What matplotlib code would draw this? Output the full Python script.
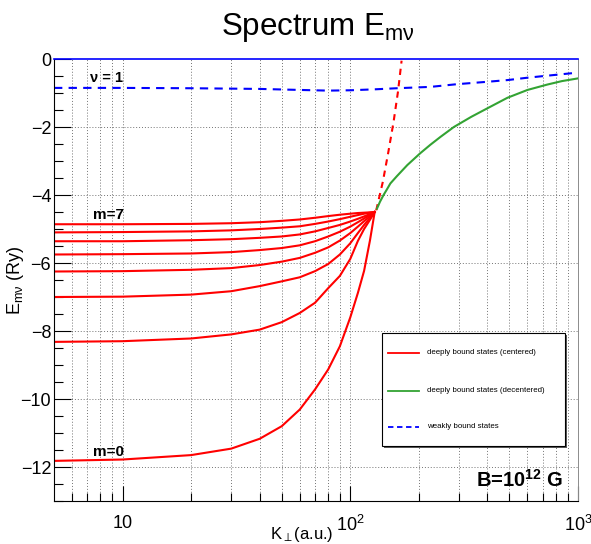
import matplotlib
matplotlib.use("Agg")
import matplotlib.pyplot as plt
from matplotlib.patches import Rectangle
from matplotlib.ticker import FixedLocator, NullFormatter, MultipleLocator

plt.rcParams["font.family"] = ["Liberation Sans", "DejaVu Sans"]
plt.rcParams["mathtext.fontset"] = "custom"
plt.rcParams["mathtext.rm"] = "Liberation Sans"
plt.rcParams["mathtext.it"] = "Liberation Sans:italic"
plt.rcParams["mathtext.bf"] = "Liberation Sans:bold"

# K_perp (a.u.) and energies (Ry)
k_centered = [5, 10, 20, 30, 40, 50, 60, 70, 80, 90, 100, 108, 115, 122, 128]
e_m0 = [-11.82, -11.78, -11.65, -11.46, -11.17, -10.80, -10.31, -9.72, -9.13, -8.45, -7.60, -6.88, -6.23, -5.34, -4.50]
e_m1 = [-8.32, -8.30, -8.22, -8.10, -7.96, -7.74, -7.47, -7.17, -6.74, -6.38, -5.88, -5.35, -5.00, -4.73, -4.50]
e_m2 = [-7.00, -6.99, -6.93, -6.83, -6.68, -6.54, -6.42, -6.24, -6.03, -5.75, -5.42, -5.12, -4.88, -4.68, -4.50]
e_m3 = [-6.25, -6.24, -6.20, -6.15, -6.06, -5.96, -5.85, -5.70, -5.54, -5.34, -5.12, -4.93, -4.77, -4.63, -4.50]
e_m4 = [-5.75, -5.74, -5.72, -5.68, -5.62, -5.56, -5.48, -5.36, -5.22, -5.08, -4.93, -4.80, -4.69, -4.59, -4.50]
e_m5 = [-5.36, -5.36, -5.33, -5.30, -5.26, -5.22, -5.16, -5.07, -4.97, -4.88, -4.78, -4.70, -4.63, -4.56, -4.50]
e_m6 = [-5.10, -5.09, -5.07, -5.04, -5.00, -4.96, -4.92, -4.85, -4.78, -4.71, -4.64, -4.59, -4.55, -4.52, -4.50]
e_m7 = [-4.86, -4.86, -4.85, -4.83, -4.80, -4.76, -4.72, -4.67, -4.62, -4.58, -4.55, -4.53, -4.52, -4.51, -4.50]
centered = [e_m0, e_m1, e_m2, e_m3, e_m4, e_m5, e_m6, e_m7]

# continuation of the centered branch (dashed red)
k_cont = [130, 139, 147, 155, 162, 168]
e_cont = [-4.45, -3.61, -2.73, -1.84, -0.96, -0.05]

# decentered states
k_decent = [131, 135, 140, 145, 150, 160, 178, 203, 225, 249, 285, 340, 400, 490, 600, 735, 850, 1000]
e_decent = [-4.40, -4.20, -4.00, -3.83, -3.66, -3.45, -3.12, -2.77, -2.52, -2.29, -2.00, -1.70, -1.45, -1.14, -0.91, -0.75, -0.65, -0.57]

# weakly bound state nu = 1
k_weak = [5, 10, 20, 40, 60, 80, 100, 130, 160, 225, 295, 400, 490, 600, 735, 1000]
e_weak = [-0.85, -0.85, -0.86, -0.88, -0.91, -0.93, -0.92, -0.89, -0.86, -0.82, -0.74, -0.67, -0.62, -0.55, -0.49, -0.40]

legend_labels = ["deeply bound states (centered)",
                 "deeply bound states (decentered)",
                 "weakly bound states"]

green = "#33a333"

fig = plt.figure(figsize=(5.91, 5.44), dpi=100)
ax = fig.add_axes([54 / 591, 43 / 544, 524 / 591, 442 / 544])

for e in centered:
    ax.plot(k_centered, e, color="red", lw=1.5)
ax.plot(k_cont, e_cont, color="red", lw=1.5, ls=(0, (3, 2.5)))
ax.plot(k_decent, e_decent, color=green, lw=1.5)
ax.plot(k_weak, e_weak, color="blue", lw=1.5, ls=(0, (4, 3)))

ax.set_xscale("log")
ax.set_xlim(5, 1000)
ax.set_ylim(-13, 0)

# grid like ROOT: every log tick on x, major ticks on y
major_x = [10, 100, 1000]
minor_x = [6, 7, 8, 9, 20, 30, 40, 50, 60, 70, 80, 90, 200, 300, 400, 500, 600, 700, 800, 900]
ax.xaxis.set_major_locator(FixedLocator(major_x))
ax.xaxis.set_minor_locator(FixedLocator(minor_x))
ax.xaxis.set_minor_formatter(NullFormatter())
ax.set_xticklabels(["10", "10$^{2}$", "10$^{3}$"])
ax.yaxis.set_major_locator(MultipleLocator(2))
ax.yaxis.set_minor_locator(MultipleLocator(0.5))
grid_kw = dict(color="0.45", ls=(0, (1, 2)), lw=0.7, zorder=0)
for x in major_x + minor_x:
    ax.axvline(x, **grid_kw)
for y in range(-12, 0, 2):
    ax.axhline(y, **grid_kw)

ax.tick_params(axis="both", which="both", direction="in", top=False, right=False,
               labelsize=13, width=0.8)
ax.tick_params(axis="x", which="major", length=11, pad=10)
ax.tick_params(axis="x", which="minor", length=6)
ax.tick_params(axis="y", which="major", length=12, pad=2)
ax.tick_params(axis="y", which="minor", length=6.5)

ax.spines["top"].set_color("blue")
ax.spines["top"].set_linewidth(1.2)
ax.spines["right"].set_color("0.55")
ax.spines["right"].set_linewidth(0.7)

ax.set_xlabel(r"K$_{\perp}$(a.u.)", fontsize=12, va="center")
ax.xaxis.set_label_coords((302 - 54) / 524, (501 - 534) / 442)
ax.set_ylabel(r"E$_{\mathrm{m\nu}}$ (Ry)", fontsize=13, va="center")
ax.yaxis.set_label_coords((16 - 54) / 524, 0.5)
fig.text(318 / 591, 1 - 28 / 544, r"Spectrum E$_{\mathrm{m\nu}}$", fontsize=22.5,
         ha="center", va="center")

ax.text(7.2, -0.56, "ν = 1", fontsize=10.5, fontweight="bold", va="center")
ax.text(7.4, -4.6, "m=7", fontsize=11, fontweight="bold", va="center")
ax.text(7.4, -11.57, "m=0", fontsize=11, fontweight="bold", va="center")
ax.text(355, -12.39, r"B=10$^{\mathbf{12}}$ G", fontsize=14.5, fontweight="bold", va="center")

# legend box drawn like the ROOT TLegend
lx0, lx1 = (382 - 54) / 524, (565 - 54) / 524
ly0, ly1 = (501 - 446) / 442, (501 - 333) / 442
ax.add_patch(Rectangle((lx0 + 0.003, ly0 - 0.004), lx1 - lx0, ly1 - ly0, transform=ax.transAxes,
                       facecolor="0.35", edgecolor="none", zorder=4))
ax.add_patch(Rectangle((lx0, ly0), lx1 - lx0, ly1 - ly0, transform=ax.transAxes,
                       facecolor="white", edgecolor="black", lw=0.8, zorder=5))
styles = [dict(color="red", ls="-"), dict(color=green, ls="-"), dict(color="blue", ls=(0, (3, 2)))]
rows_y = [353, 391, 427]
for label, st, py in zip(legend_labels, styles, rows_y):
    yy = (501 - py) / 442
    ax.plot([(388 - 54) / 524, (419 - 54) / 524], [yy, yy], transform=ax.transAxes,
            lw=1.3, zorder=6, **st)
    ax.text((427 - 54) / 524, yy, label, transform=ax.transAxes, fontsize=5.7,
            va="center", zorder=6)

fig.savefig("out.png", dpi=100)
